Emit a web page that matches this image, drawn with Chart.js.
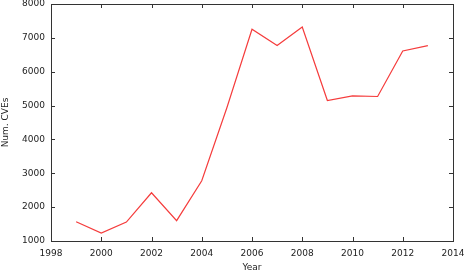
<!DOCTYPE html>
<html>
<head>
<meta charset="utf-8">
<script src="https://cdn.jsdelivr.net/npm/chart.js@4/dist/chart.umd.min.js"></script>
<style>
  html, body { margin: 0; padding: 0; background: #fff; }
  #wrap { width: 466px; height: 273px; }
</style>
</head>
<body>
<div id="wrap"><canvas id="chart" width="466" height="273"></canvas></div>
<script>
const years = [1999, 2000, 2001, 2002, 2003, 2004, 2005, 2006, 2007, 2008, 2009, 2010, 2011, 2012, 2013];
const cves = [1570, 1236, 1560, 2425, 1600, 2780, 4935, 7254, 6773, 7322, 5150, 5286, 5268, 6614, 6773];
const xTicks = [1998, 2000, 2002, 2004, 2006, 2008, 2010, 2012, 2014];
const yTicks = [1000, 2000, 3000, 4000, 5000, 6000, 7000, 8000];

const axisColor = '#333';
const font = { family: 'DejaVu Sans', size: 9 };

// gnuplot-style frame with inward ticks on all four sides
const frame = {
  id: 'frame',
  afterDraw(chart) {
    const { ctx, chartArea: a, scales } = chart;
    ctx.save();
    ctx.strokeStyle = axisColor;
    ctx.lineWidth = 1;
    ctx.strokeRect(Math.round(a.left) + 0.5, Math.round(a.top) + 0.5,
                   Math.round(a.right - a.left), Math.round(a.bottom - a.top));
    ctx.beginPath();
    const len = 4;
    xTicks.forEach(v => {
      const x = Math.round(scales.x.getPixelForValue(v)) + 0.5;
      ctx.moveTo(x, a.bottom); ctx.lineTo(x, a.bottom - len);
      ctx.moveTo(x, a.top); ctx.lineTo(x, a.top + len);
    });
    yTicks.forEach(v => {
      const y = Math.round(scales.y.getPixelForValue(v)) + 0.5;
      ctx.moveTo(a.left, y); ctx.lineTo(a.left + len, y);
      ctx.moveTo(a.right, y); ctx.lineTo(a.right - len, y);
    });
    ctx.stroke();
    ctx.restore();
  }
};

new Chart(document.getElementById('chart'), {
  type: 'line',
  data: {
    datasets: [{
      data: years.map((y, i) => ({ x: y, y: cves[i] })),
      borderColor: 'rgb(245,60,60)',
      borderWidth: 1.2,
      pointRadius: 0,
      tension: 0,
      fill: false
    }]
  },
  options: {
    responsive: false,
    animation: false,
    layout: { padding: { left: 0, right: 13, top: 4, bottom: 0 } },
    plugins: { legend: { display: false }, tooltip: { enabled: false } },
    scales: {
      x: {
        type: 'linear',
        min: 1998, max: 2014,
        afterBuildTicks: s => { s.ticks = xTicks.map(v => ({ value: v })); },
        afterFit: s => { s.height = 32; s.paddingLeft = 0; s.paddingRight = 0; },
        grid: { display: false, drawTicks: false },
        border: { display: false },
        ticks: { color: '#222', font, padding: 7, maxRotation: 0, callback: v => String(v) },
        title: { display: true, text: 'Year', color: '#222', font, padding: { top: 2, bottom: 0 } }
      },
      y: {
        min: 1000, max: 8000,
        afterBuildTicks: s => { s.ticks = yTicks.map(v => ({ value: v })); },
        afterFit: s => { s.width = 51; s.paddingTop = 0; s.paddingBottom = 0; },
        grid: { display: false, drawTicks: false },
        border: { display: false },
        ticks: { color: '#222', font, padding: 6, callback: v => String(v) },
        title: { display: true, text: 'Num. CVEs', color: '#222', font, padding: { top: 0, bottom: 4 } }
      }
    }
  },
  plugins: [frame]
});
</script>
</body>
</html>
